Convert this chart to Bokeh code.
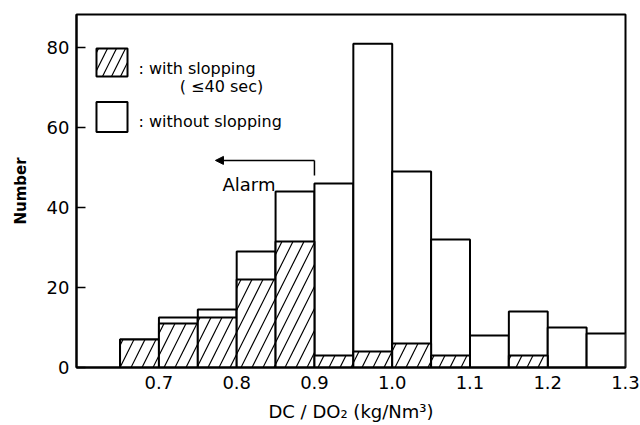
from bokeh.plotting import figure
from bokeh.models import Range1d, FixedTicker, Arrow, NormalHead, Label
from bokeh.embed import file_html
from bokeh.resources import INLINE

# ---- data ----
bin_edges = [0.65, 0.70, 0.75, 0.80, 0.85, 0.90, 0.95, 1.00, 1.05, 1.10, 1.15, 1.20, 1.25, 1.30]
total_counts = [7, 12.5, 14.5, 29, 44, 46, 81, 49, 32, 8, 14, 10, 8.5]
slopping_counts = [7, 11, 12.5, 22, 31.5, 3, 4, 6, 3, 0, 3, 0, 0]
x_ticks = [0.7, 0.8, 0.9, 1.0, 1.1, 1.2, 1.3]
x_tick_labels = ["0.7", "0.8", "0.9", "1.0", "1.1", "1.2", "1.3"]
y_ticks = [0, 20, 40, 60, 80]
y_tick_labels = ["0", "20", "40", "60", "80"]
alarm_threshold = 0.90

FONT = "DejaVu Sans"

p = figure(width=640, height=425, output_backend="svg", toolbar_location=None,
           x_range=Range1d(0.594, 1.30), y_range=Range1d(0, 88.3),
           min_border_left=76, min_border_right=15, min_border_top=14, min_border_bottom=58)
p.background_fill_color = "white"
p.border_fill_color = "white"
p.outline_line_color = "black"
p.outline_line_width = 2
p.grid.visible = False

lefts = bin_edges[:-1]
rights = bin_edges[1:]
p.quad(left=lefts, right=rights, bottom=0, top=total_counts,
       fill_color="white", line_color="black", line_width=2)

hl = [l for l, h in zip(lefts, slopping_counts) if h > 0]
hr = [r for r, h in zip(rights, slopping_counts) if h > 0]
hh = [h for h in slopping_counts if h > 0]
p.quad(left=hl, right=hr, bottom=0, top=hh,
       fill_color="white", line_color="black", line_width=2,
       hatch_pattern="/", hatch_color="black", hatch_scale=22, hatch_weight=1.2)

# axes
p.xaxis.ticker = FixedTicker(ticks=x_ticks)
p.xaxis.major_label_overrides = dict(zip(x_ticks, x_tick_labels))
p.yaxis.ticker = FixedTicker(ticks=y_ticks)
p.yaxis.major_label_overrides = dict(zip(y_ticks, y_tick_labels))
for ax in (p.xaxis, p.yaxis):
    ax.axis_line_color = "black"
    ax.axis_line_width = 2
    ax.minor_tick_line_color = None
    ax.major_label_text_font = FONT
    ax.major_label_text_font_size = "18px"
    ax.major_label_text_color = "black"
    ax.axis_label_text_font = FONT
    ax.axis_label_text_color = "black"
    ax.axis_label_text_font_style = "normal"

p.xaxis.major_tick_line_color = None
p.xaxis.major_tick_in = 0
p.xaxis.major_tick_out = 0
p.xaxis.major_label_standoff = 8
p.xaxis.axis_label = "DC / DO\u2082 (kg/Nm\u00b3)"
p.xaxis.axis_label_text_font_size = "18px"
p.xaxis.axis_label_standoff = 9

p.yaxis.major_tick_line_color = "black"
p.yaxis.major_tick_line_width = 1.5
p.yaxis.major_tick_in = 9
p.yaxis.major_tick_out = 0
p.yaxis.major_label_standoff = 7
p.yaxis.axis_label = "Number"
p.yaxis.axis_label_text_font_size = "15px"
p.yaxis.axis_label_text_font_style = "bold"
p.yaxis.axis_label_standoff = 14

# legend (drawn manually)
p.quad(left=[0.6197], right=[0.6596], bottom=[72.8], top=[79.8],
       fill_color="white", line_color="black", line_width=2,
       hatch_pattern="/", hatch_color="black", hatch_scale=18, hatch_weight=1.2)
p.quad(left=[0.6197], right=[0.6596], bottom=[58.9], top=[66.4],
       fill_color="white", line_color="black", line_width=2)

for txt, x, y in [(": with slopping", 0.6737, 74.9),
                  ("( \u226440 sec)", 0.7268, 70.3),
                  (": without slopping", 0.6737, 61.6),
                  ("Alarm", 0.7817, 45.9)]:
    p.add_layout(Label(x=x, y=y, text=txt, text_font=FONT,
                       text_font_size="18px" if txt == "Alarm" else "16px",
                       text_color="black", text_baseline="alphabetic", text_align="left"))

# alarm arrow
p.add_layout(Arrow(x_start=alarm_threshold, y_start=51.8, x_end=0.7727, y_end=51.8,
                   line_color="black", line_width=1.5,
                   end=NormalHead(size=8, fill_color="black", line_color="black")))
p.line(x=[alarm_threshold, alarm_threshold], y=[51.8, 48.0], line_color="black", line_width=1.5)

open("out.html", "w").write(file_html(p, INLINE))
